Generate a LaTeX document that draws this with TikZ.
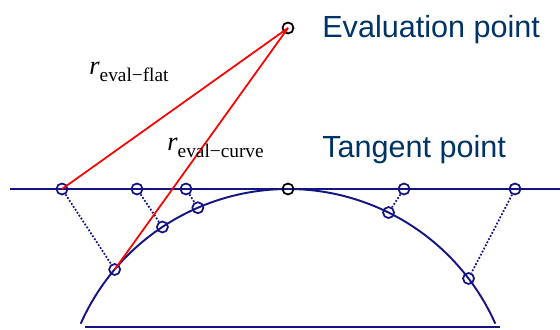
\documentclass[tikz,border=0pt]{standalone}
\usepackage{fontspec}
\setmainfont{Liberation Sans}
\newfontfamily\timesfont{Liberation Serif}
\definecolor{navy}{RGB}{20,20,130}
\definecolor{labelblue}{RGB}{0,51,102}
\newcommand\rdist[1]{\textit{r}\raisebox{-4.5pt}{\fontsize{11}{12}\selectfont #1}}

\begin{document}
\begin{tikzpicture}[x=0.02cm, y=-0.02cm,
  geom/.style={navy, line width=1.1pt},
  pt/.style={circle, draw=navy, line width=1pt, inner sep=0pt, minimum size=0.22cm},
  blackpt/.style={pt, draw=black},
  link/.style={navy, line width=1pt, densely dotted},
  ray/.style={red, line width=1pt},
  title/.style={labelblue, anchor=base west, inner sep=0pt, font=\fontsize{17.4}{20}\selectfont},
  rlabel/.style={anchor=base west, inner sep=0pt, font=\timesfont\fontsize{15}{16}\selectfont},
]
  \useasboundingbox (0,0) rectangle (560,329);

  \coordinate (ctr) at (288,416);
  \coordinate (lineL) at (10,189);
  \coordinate (lineR) at (560,189);
  \coordinate (baseL) at (85,327);
  \coordinate (baseR) at (500,327);

  \draw[geom] (lineL) -- (lineR);
  \draw[geom] (baseL) -- (baseR);
  \draw[geom] ([shift={(ctr)}]156:4.54cm) arc[start angle=156, end angle=24, radius=4.54cm];

  \foreach \i/\fx/\ang in {1/62/139.8, 2/137/123.6, 3/186/113.4, 4/404/63.7, 5/515/37.3} {
    \node[pt] (f\i) at (\fx,189) {};
    \node[pt] (c\i) at ([shift={(ctr)}]\ang:4.54cm) {};
    \draw[link] (f\i) -- (c\i);
  }

  \node[blackpt] (tp) at (288,189) {};
  \node[blackpt] (ev) at (288,28) {};

  \draw[ray] (ev.center) -- (f1.center);
  \draw[ray] (ev.center) -- (c1.center);

  \node[title] (evlabel) at (322,37) {Evaluation point};
  \node[title] (tplabel) at (322,157) {Tangent point};

  \node[rlabel] (rflat) at (89,74) {\rdist{eval\char"2212flat}};
  \node[rlabel] (rcurve) at (167,150) {\rdist{eval\char"2212curve}};
\end{tikzpicture}
\end{document}
